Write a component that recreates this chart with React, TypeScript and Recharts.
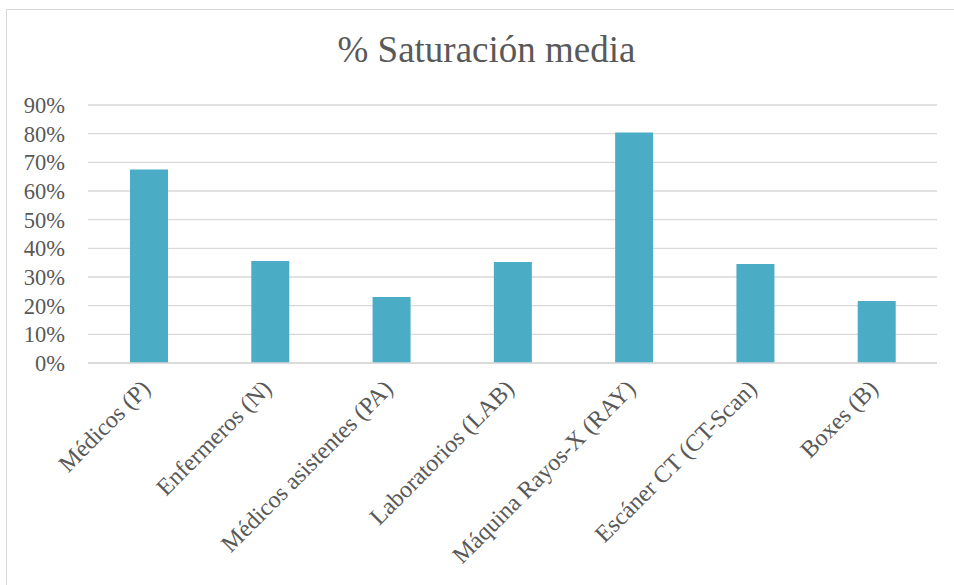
import React from "react";
import { BarChart, Bar, XAxis, YAxis, CartesianGrid } from "recharts";

const categories = [
  "Médicos (P)",
  "Enfermeros (N)",
  "Médicos asistentes (PA)",
  "Laboratorios (LAB)",
  "Máquina Rayos-X (RAY)",
  "Escáner CT (CT-Scan)",
  "Boxes (B)",
];
const saturation = [67.5, 35.6, 23.0, 35.2, 80.4, 34.5, 21.6];
const yTicks = [0, 10, 20, 30, 40, 50, 60, 70, 80, 90];

const data = categories.map((name, i) => ({ name, value: saturation[i] }));

const FONT = "Liberation Serif, Times New Roman, serif";
const TEXT = "#595959";

function XTick({ x, y, payload }: any) {
  const ax = x + 3;
  const ay = y + 25;
  return (
    <text
      x={ax}
      y={ay}
      transform={`rotate(-45 ${ax} ${ay})`}
      textAnchor="end"
      fontFamily={FONT}
      fontSize={24}
      fill={TEXT}
    >
      {payload.value}
    </text>
  );
}

export default function App() {
  return (
    <div style={{ position: "absolute", left: 0, top: 0, width: 954, height: 585, overflow: "hidden", background: "#fff" }}>
      <div
        style={{
          position: "absolute",
          left: 6,
          top: 9,
          width: 962,
          height: 600,
          border: "1px solid #D9D9D9",
        }}
      />
      <div
        style={{
          position: "absolute",
          left: 0,
          width: 973,
          top: 29,
          textAlign: "center",
          fontFamily: FONT,
          fontSize: 37,
          color: TEXT,
          lineHeight: "42px",
        }}
      >
        % Saturación media
      </div>
      <div style={{ position: "absolute", left: 0, top: 0 }}>
        <BarChart
          width={954}
          height={585}
          data={data}
          margin={{ top: 105, right: 17, left: 0, bottom: 0 }}
          barSize={38}
        >
          <CartesianGrid vertical={false} stroke="#D9D9D9" strokeWidth={1.3} />
          <XAxis
            dataKey="name"
            interval={0}
            height={222}
            tickLine={false}
            tickSize={0}
            axisLine={{ stroke: "#D9D9D9", strokeWidth: 1.3 }}
            tick={<XTick />}
          />
          <YAxis
            width={88}
            domain={[0, 90]}
            ticks={yTicks}
            interval={0}
            axisLine={false}
            tickLine={false}
            tickSize={0}
            tickMargin={23}
            tickFormatter={(v: number) => `${v}%`}
            tick={{ fill: TEXT, fontSize: 22.5, fontFamily: FONT }}
          />
          <Bar dataKey="value" fill="#4BACC6" isAnimationActive={false} />
        </BarChart>
      </div>
    </div>
  );
}
